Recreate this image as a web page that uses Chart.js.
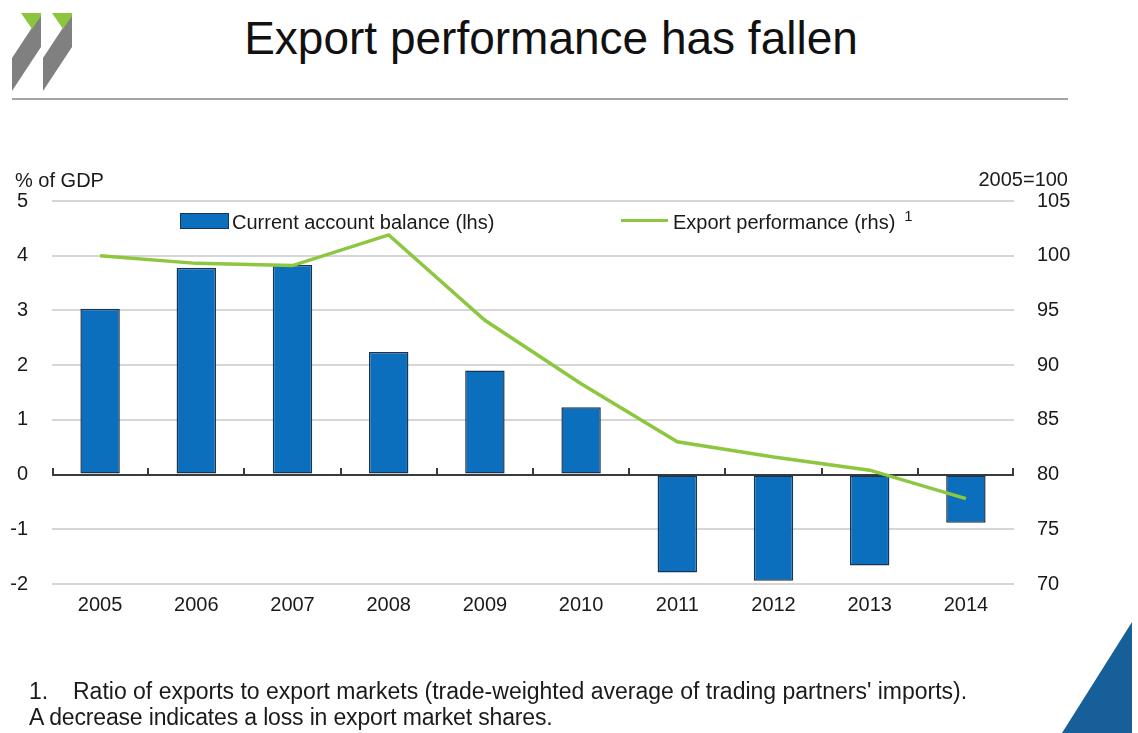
<!DOCTYPE html>
<html>
<head>
<meta charset="utf-8">
<script src="https://cdn.jsdelivr.net/npm/chart.js@4.4.1/dist/chart.umd.min.js"></script>
<style>
  html, body { margin: 0; padding: 0; background: #fff; }
  #page { position: relative; width: 1138px; height: 733px; overflow: hidden; background: #fff; color: #1a1a1a; font-family: "Liberation Sans", Arial, sans-serif; }
  #chart { position: absolute; left: 0; top: 0; }
  .abs { position: absolute; white-space: nowrap; line-height: 1; }
  #title { left: 0; width: 1102px; text-align: center; top: 15px; font-size: 46px; color: #111; }
  #rule { left: 12px; top: 98px; width: 1056px; height: 2px; background: #a3a3a3; }
  .swatch-bar { position: absolute; left: 180px; top: 213px; width: 47px; height: 14px; background: #0b6fbd; border: 1px solid #1b3550; }
  .swatch-line { position: absolute; left: 621px; top: 219px; width: 47px; height: 3px; background: #8dc63f; }
  .foot { font-size: 23px; }
</style>
</head>
<body>
<div id="page">
  <svg class="abs" style="left:0;top:0" width="90" height="100" viewBox="0 0 90 100">
    <!-- two slanted grey bars with green caps -->
    <polygon points="12,58 41,14 41,47 12,91" fill="#808080"/>
    <polygon points="21,13 41,13 41,16 32,29" fill="#8cc63f"/>
    <polygon points="43,58 72,14 72,47 43,91" fill="#808080"/>
    <polygon points="52,13 72,13 72,16 63,29" fill="#8cc63f"/>
  </svg>
  <div id="title" class="abs">Export performance has fallen</div>
  <div id="rule" class="abs"></div>

  <canvas id="chart" width="1138" height="733"></canvas>

  <div id="lhsTitle" class="abs narrow">% of GDP</div>
  <div id="rhsTitle" class="abs narrow">2005=100</div>
  <div class="swatch-bar"></div>
  <div id="leg1" class="abs narrow">Current account balance (lhs)</div>
  <div class="swatch-line"></div>
  <div id="leg2" class="abs narrow">Export performance (rhs)</div>
  <div id="leg2sup" class="abs" style="font-size:15px;">1</div>

  <div class="abs foot" style="left:29px;top:680px;">1.</div>
  <div class="abs foot" style="left:73px;top:680px;">Ratio of exports to export markets (trade-weighted average of trading partners' imports).</div>
  <div class="abs foot" style="left:29px;top:706px;letter-spacing:-0.16px;">A decrease indicates a loss in export market shares.</div>

  <svg class="abs" style="left:0;top:0;pointer-events:none" width="1138" height="733">
    <polygon points="1132,622 1132,733 1062,733" fill="#175f99"/>
  </svg>
</div>

<script>
// Categories and series
const years = ['2005', '2006', '2007', '2008', '2009', '2010', '2011', '2012', '2013', '2014'];
const currentAccount = [3.03, 3.78, 3.83, 2.24, 1.90, 1.23, -1.79, -1.94, -1.66, -0.88];
const exportPerformance = [100.0, 99.3, 99.1, 101.9, 94.1, 88.3, 83.0, 81.6, 80.4, 77.8];

// Axis ranges and tick steps
const lhsRange = [-2, 5];
const lhsStep = 1;
const rhsRange = [70, 105];
const rhsStep = 5;

// Pick a condensed face when it is installed, otherwise a regular one at a smaller size
function fontAvailable(name) {
  const c = document.createElement('canvas').getContext('2d');
  const sample = 'Current 2005 abc';
  c.font = '40px monospace';
  const a = c.measureText(sample).width;
  c.font = '40px "' + name + '", monospace';
  const b = c.measureText(sample).width;
  return Math.abs(a - b) > 0.5;
}
const narrowOK = fontAvailable('Liberation Sans Narrow');
const labelFamily = narrowOK ? '"Liberation Sans Narrow", "Liberation Sans", Arial, sans-serif' : '"Liberation Sans", Arial, sans-serif';
const labelSize = narrowOK ? 24 : 20;

document.querySelectorAll('.narrow').forEach(el => {
  el.style.fontFamily = labelFamily;
  el.style.fontSize = labelSize + 'px';
});
// place the HTML labels so their baselines sit where intended
function placeBaseline(id, left, baseline, alignRight) {
  const el = document.getElementById(id);
  const asc = labelSize * 0.905;
  el.style.top = (baseline - asc + (labelSize * 1.117 - labelSize) / 2) + 'px';
  if (alignRight) { el.style.right = (1138 - left) + 'px'; } else { el.style.left = left + 'px'; }
}
placeBaseline('lhsTitle', 15, 187);
placeBaseline('rhsTitle', 1068, 186, true);
placeBaseline('leg1', 232, 229);
placeBaseline('leg2', 673, 229);
const leg2 = document.getElementById('leg2');
const sup = document.getElementById('leg2sup');
sup.style.left = (673 + leg2.getBoundingClientRect().width + 9) + 'px';
sup.style.top = '208px';

// Zero line with small upward ticks at category boundaries
const zeroAxis = {
  id: 'zeroAxis',
  beforeDatasetsDraw(chart) {
    const { ctx, chartArea, scales } = chart;
    const x = scales.x, y = scales.y;
    const y0 = Math.round(y.getPixelForValue(0));
    ctx.save();
    ctx.strokeStyle = '#3a3a3a';
    ctx.lineWidth = 2;
    ctx.beginPath();
    ctx.moveTo(chartArea.left, y0);
    ctx.lineTo(chartArea.right, y0);
    for (let i = 0; i <= years.length; i++) {
      let px;
      if (i === 0) px = chartArea.left + 1;
      else if (i === years.length) px = chartArea.right - 1;
      else px = (x.getPixelForValue(i - 1) + x.getPixelForValue(i)) / 2;
      px = Math.round(px);
      ctx.moveTo(px, y0);
      ctx.lineTo(px, y0 - 7);
    }
    ctx.stroke();
    ctx.restore();
  }
};

const tickFont = { family: labelFamily, size: labelSize };

new Chart(document.getElementById('chart'), {
  data: {
    labels: years,
    datasets: [
      {
        type: 'line',
        label: 'Export performance (rhs)',
        data: exportPerformance,
        yAxisID: 'y2',
        borderColor: '#8dc63f',
        borderWidth: 3.5,
        pointRadius: 0,
        tension: 0,
        fill: false,
        order: 0
      },
      {
        type: 'bar',
        label: 'Current account balance (lhs)',
        data: currentAccount,
        yAxisID: 'y',
        backgroundColor: '#0b6fbd',
        borderColor: '#1b3550',
        borderWidth: 1.5,
        borderSkipped: false,
        categoryPercentage: 1,
        barPercentage: 0.41,
        order: 1
      }
    ]
  },
  options: {
    responsive: false,
    animation: false,
    devicePixelRatio: 1,
    layout: { padding: { top: 201, left: 0, right: 0, bottom: 109 } },
    plugins: { legend: { display: false }, tooltip: { enabled: false } },
    scales: {
      x: {
        offset: true,
        grid: { display: false, drawTicks: false },
        border: { display: false },
        ticks: { font: tickFont, color: '#1a1a1a', padding: 9, maxRotation: 0 },
        afterFit(s) { s.height = 40; }
      },
      y: {
        position: 'left',
        min: lhsRange[0],
        max: lhsRange[1],
        ticks: { stepSize: lhsStep, font: tickFont, color: '#1a1a1a', padding: 24 },
        grid: {
          drawTicks: false,
          lineWidth: 2,
          color: c => (c.tick && c.tick.value === 0) ? 'rgba(0,0,0,0)' : '#d6d6d6'
        },
        border: { display: false },
        afterFit(s) { s.width = 52; }
      },
      y2: {
        position: 'right',
        min: rhsRange[0],
        max: rhsRange[1],
        ticks: { stepSize: rhsStep, font: tickFont, color: '#1a1a1a', padding: 23 },
        grid: { display: false, drawTicks: false },
        border: { display: false },
        afterFit(s) { s.width = 124; }
      }
    }
  },
  plugins: [zeroAxis]
});
</script>
</body>
</html>
